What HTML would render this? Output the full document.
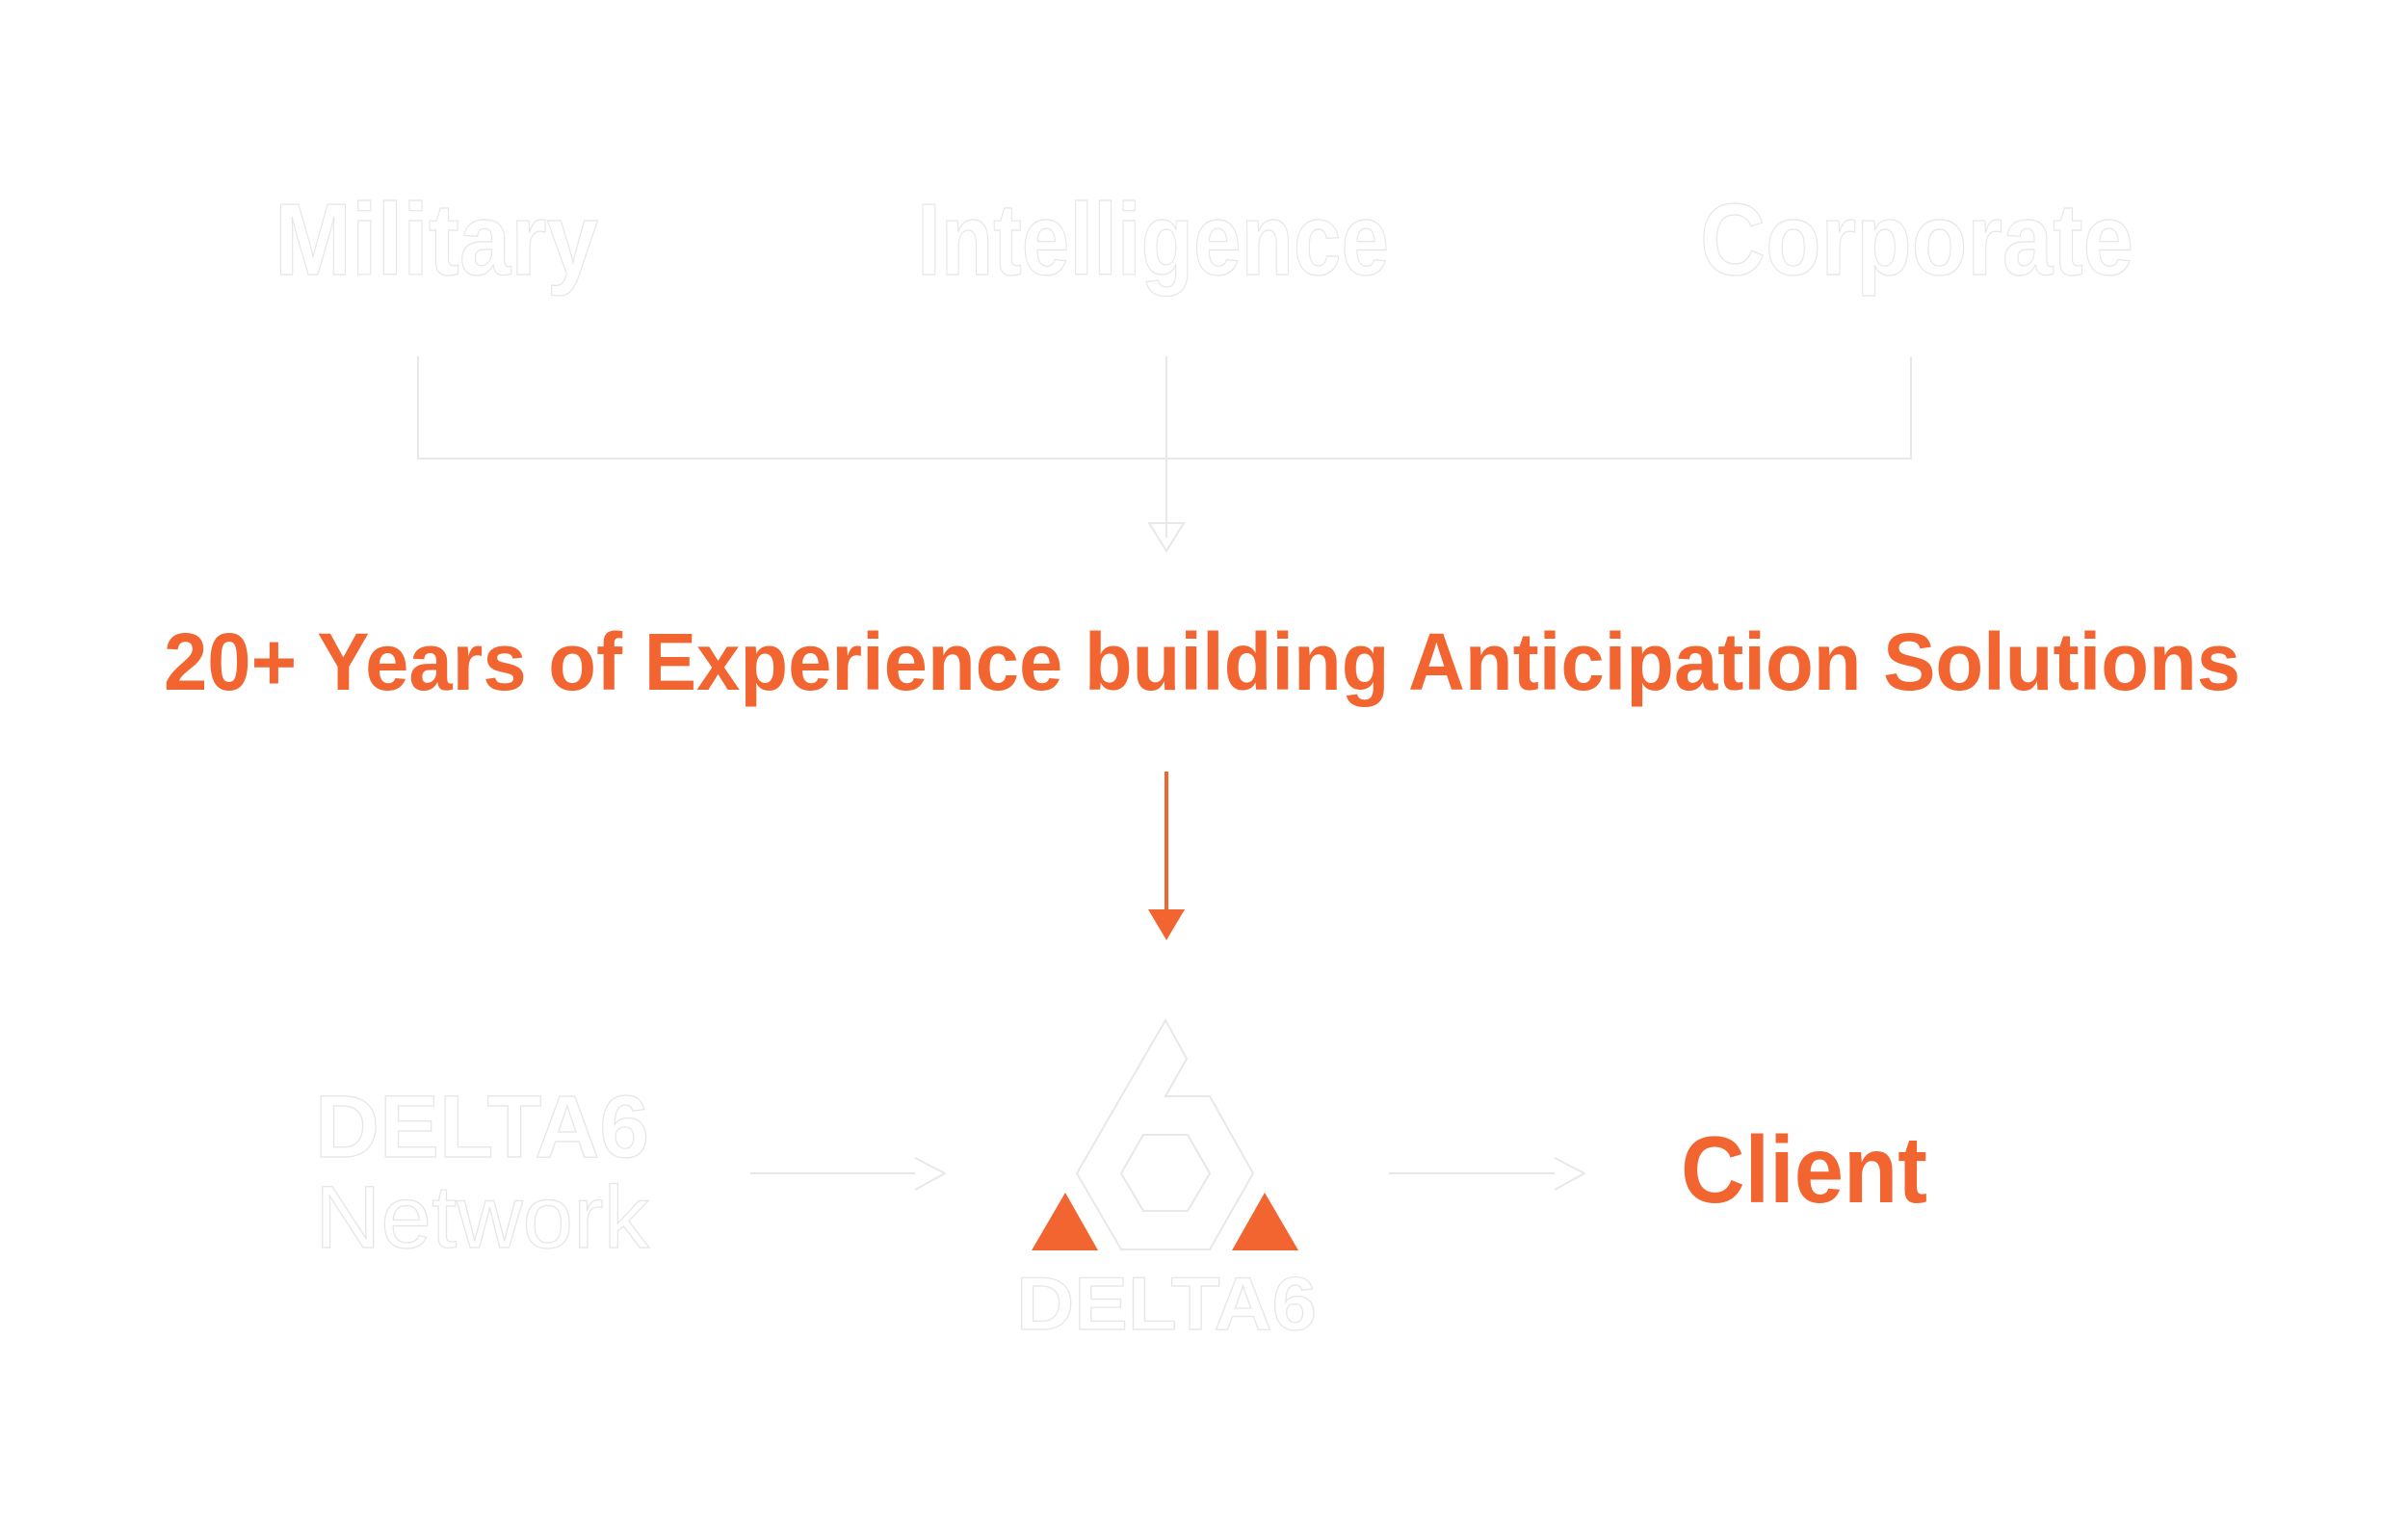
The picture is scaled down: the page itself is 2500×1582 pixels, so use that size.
<!DOCTYPE html>
<html><head><meta charset="utf-8"><style>
html,body{margin:0;padding:0;background:#fff;}
svg{display:block}
</style></head><body>
<svg width="2500" height="1582" viewBox="0 0 2500 1582" xmlns="http://www.w3.org/2000/svg">
<rect width="2500" height="1582" fill="#fff"/>
<g font-family="Liberation Sans, sans-serif" font-weight="bold" fill="#fff" stroke="#e4e6e8" stroke-width="1.2">
<text x="285" y="285" font-size="106" textLength="336" lengthAdjust="spacingAndGlyphs">Military</text>
<text x="952" y="285" font-size="106" textLength="490" lengthAdjust="spacingAndGlyphs">Intelligence</text>
<text x="1765" y="285" font-size="106" textLength="450" lengthAdjust="spacingAndGlyphs">Corporate</text>
<text x="327" y="1201" font-size="92" textLength="347" lengthAdjust="spacingAndGlyphs">DELTA6</text>
<text x="327" y="1295" font-size="92" font-weight="normal" textLength="347" lengthAdjust="spacingAndGlyphs">Network</text>
<text x="1055" y="1380" font-size="78" textLength="312" lengthAdjust="spacingAndGlyphs">DELTA6</text>
</g>
<g fill="none" stroke="#e6e8ea" stroke-width="2">
<path d="M434 370 V476 H1984 V370"/>
<path d="M1211 370 V476"/>
<path d="M1211 476 V558"/>
<path d="M1193 543 L1211 572 L1229 543 Z"/>
<path d="M779 1218 H950"/>
<path d="M950 1202 L981 1218 L950 1235"/>
<path d="M1442 1218 H1614"/>
<path d="M1614 1202 L1645 1218 L1614 1235"/>
<polygon points="1210,1059 1232,1099 1210,1138 1256,1138 1301,1218 1256,1297 1164,1297 1118,1218"/>
<polygon points="1187,1178 1233,1178 1256,1218 1233,1257 1187,1257 1164,1218"/>
</g>
<text x="170" y="716" font-family="Liberation Sans, sans-serif" font-weight="bold" font-size="84" fill="#f26531" textLength="2156" lengthAdjust="spacingAndGlyphs">20+ Years of Experience building Anticipation Solutions</text>
<text x="1745" y="1248" font-family="Liberation Sans, sans-serif" font-weight="bold" font-size="98" fill="#f26531" textLength="256" lengthAdjust="spacingAndGlyphs">Client</text>
<line x1="1211" y1="801" x2="1211" y2="950" stroke="#f26531" stroke-width="4"/>
<polygon points="1192,944 1230,944 1211,976" fill="#f26531"/>
<polygon points="1106,1238 1071,1298 1140,1298" fill="#f26531"/>
<polygon points="1313,1238 1279,1298 1348,1298" fill="#f26531"/>
</svg>
</body></html>
